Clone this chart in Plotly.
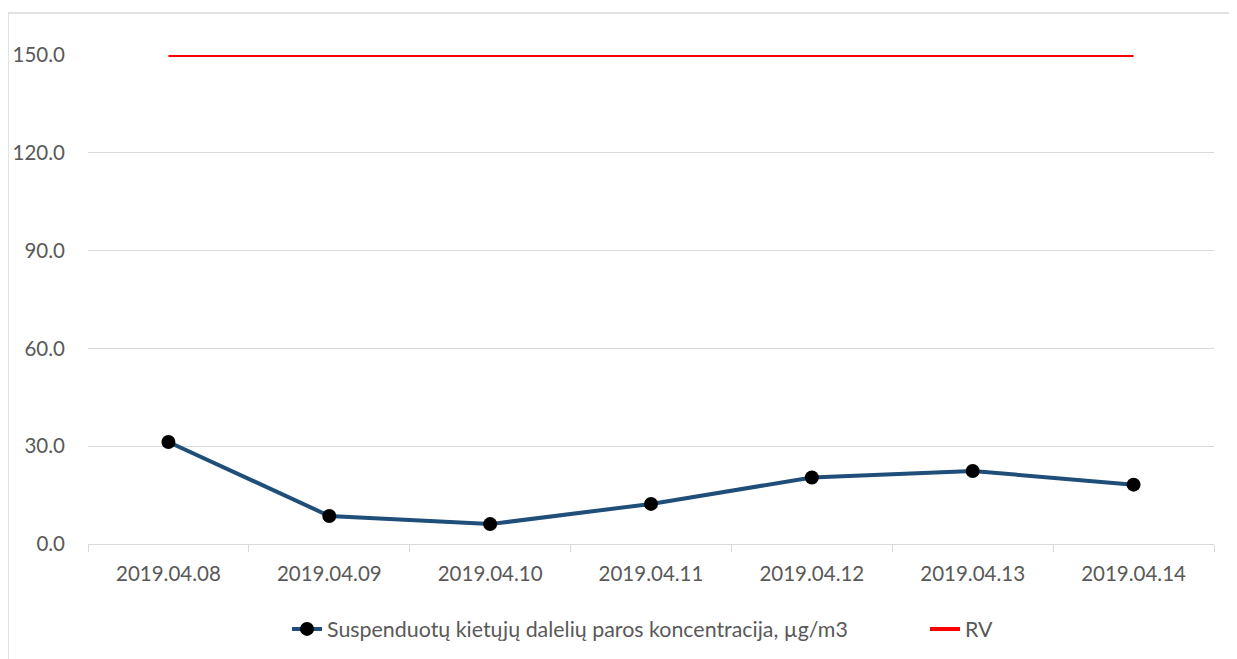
import plotly.graph_objects as go

dates = ["2019.04.08", "2019.04.09", "2019.04.10", "2019.04.11",
         "2019.04.12", "2019.04.13", "2019.04.14"]
concentration = [31.3, 8.6, 6.1, 12.3, 20.4, 22.4, 18.2]
rv = [150, 150, 150, 150, 150, 150, 150]
y_ticks = [0, 30, 60, 90, 120, 150]
y_tick_labels = ["0.0", "30.0", "60.0", "90.0", "120.0", "150.0"]

series_name = "Suspenduotų kietųjų dalelių paros koncentracija, µg/m3"

FONT = "Lato, Calibri, Carlito, sans-serif"
TXT = "#595959"

# page body has an 8px margin; figure is sized/margined to compensate
W, H = 1229, 651
L, R, T, B = 80, 23, 47, 115
PW, PH = W - L - R, H - T - B


def px_x(x):  # page x -> paper x
    return (x - 88) / PW


def px_y(y):  # page y -> paper y
    return (544 - y) / PH


fig = go.Figure()
fig.add_trace(go.Scatter(
    x=dates, y=concentration, name=series_name, mode="lines+markers",
    line=dict(color="#1F4E79", width=4),
    marker=dict(color="black", size=14),
    legend="legend",
))
fig.add_trace(go.Scatter(
    x=dates, y=rv, name="RV", mode="lines",
    line=dict(color="#FF0000", width=4),
    legend="legend2",
))

leg_common = dict(orientation="h", yanchor="middle", xanchor="left",
                  font=dict(size=21.4, color=TXT), bgcolor="rgba(0,0,0,0)")

fig.update_layout(
    width=W, height=H,
    margin=dict(l=L, r=R, t=T, b=B, autoexpand=False),
    paper_bgcolor="white", plot_bgcolor="white",
    font=dict(family=FONT, size=20, color=TXT),
    showlegend=True,
    legend=dict(x=px_x(287), y=px_y(629), **leg_common),
    legend2=dict(x=px_x(925), y=px_y(629), **leg_common),
    xaxis=dict(type="category", range=[-0.5, 6.5], showgrid=False,
               showline=True, linecolor="#D9D9D9", linewidth=1,
               ticks="outside", tickson="boundaries", ticklen=7,
               tickcolor="#D9D9D9", tickfont=dict(size=20.5, color=TXT),
               ticklabelstandoff=11, zeroline=False, fixedrange=True,
               automargin=False),
    yaxis=dict(range=[0, 150], tickvals=y_ticks, ticktext=y_tick_labels,
               showgrid=True, gridcolor="#D9D9D9", gridwidth=1,
               showline=False, zeroline=False, ticks="",
               tickfont=dict(size=20.5, color=TXT), ticklabelstandoff=22,
               fixedrange=True, automargin=False),
    shapes=[dict(type="rect", xref="paper", yref="paper",
                 x0=px_x(8), x1=1.05, y0=-0.3, y1=px_y(13),
                 line=dict(color="#D9D9D9", width=1.5), layer="below")],
)

fig.write_html("out.html")
